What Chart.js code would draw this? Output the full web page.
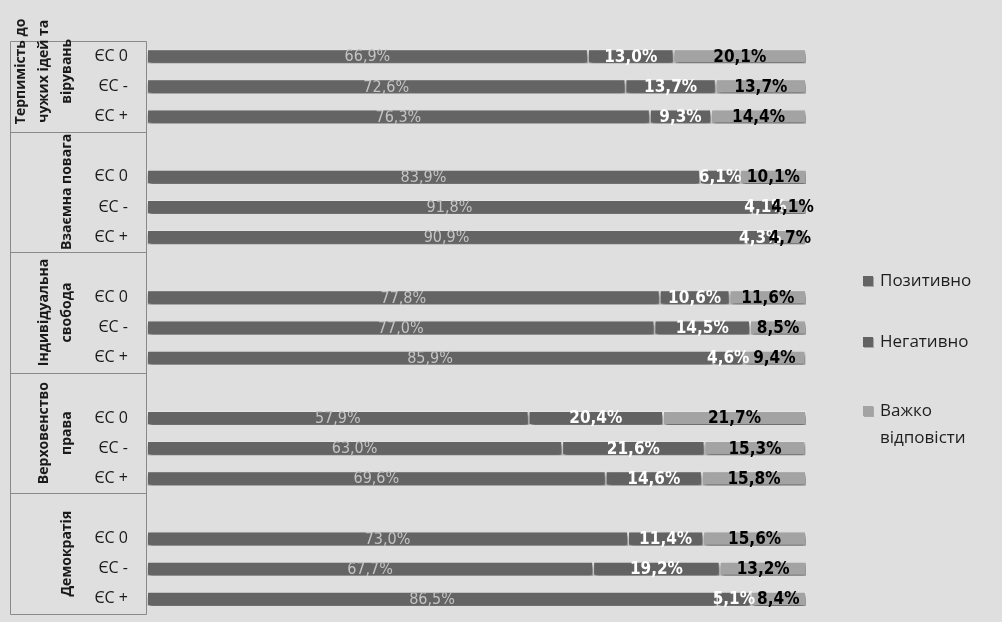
<!DOCTYPE html>
<html><head><meta charset="utf-8">
<script src="https://cdn.jsdelivr.net/npm/chart.js@4/dist/chart.umd.min.js"></script>
<style>html,body{margin:0;padding:0;background:#dfdfdf;overflow:hidden}#wrap{width:1002px;height:622px;position:relative}</style>
</head><body><div id="wrap"><canvas id="c" width="1002" height="622"></canvas></div>
<script>
const groupNames = [['Терпимість до','чужих ідей та','вірувань'],['Взаємна повага'],['Індивідуальна','свобода'],['Верховенство','права'],['Демократія']];
const subLabels = ['ЄС 0','ЄС -','ЄС +'];
const positive = [66.9,72.6,76.3, 83.9,91.8,90.9, 77.8,77.0,85.9, 57.9,63.0,69.6, 73.0,67.7,86.5];
const negative = [13.0,13.7,9.3, 6.1,4.1,4.3, 10.6,14.5,4.6, 20.4,21.6,14.6, 11.4,19.2,5.1];
const hard = [20.1,13.7,14.4, 10.1,4.1,4.7, 11.6,8.5,9.4, 21.7,15.3,15.8, 15.6,13.2,8.4];
const seriesNames = ['Позитивно','Негативно','Важко відповісти'];
const legendLines = [['Позитивно'],['Негативно'],['Важко','відповісти']];
const colors = ['#646464','#626262','#a3a3a3'];
const labelColors = ['#c4c4c4','#ffffff','#000000'];
const labelFonts = ['16px','bold 17px','bold 17px'];

function slotted(arr){const out=[];for(let g=0;g<groupNames.length;g++){out.push(null);for(let i=0;i<subLabels.length;i++)out.push(arr[g*subLabels.length+i]);}return out;}
const yLabels=[];for(let g=0;g<groupNames.length;g++){yLabels.push('');subLabels.forEach(s=>yLabels.push(s));}
const seriesData=[positive,negative,hard];

const LABEL_FONT="'DejaVu Sans Condensed','Liberation Sans Narrow','DejaVu Sans',sans-serif";
const UI_FONT="'Open Sans','Noto Sans',sans-serif";

const decor={id:'decor',
 beforeDatasetsDraw(chart){const ctx=chart.ctx;const y=chart.scales.y;const ca=chart.chartArea;
  ctx.save();ctx.strokeStyle='#8a8a8a';ctx.lineWidth=1;
  const top=Math.round(y.getPixelForValue(0.5))+0.5;const bot=Math.round(y.getPixelForValue(yLabels.length-0.5))+0.5;
  const lx=10.5, rx=Math.round(ca.left)-0.5;
  ctx.beginPath();ctx.moveTo(lx,top);ctx.lineTo(lx,bot);ctx.moveTo(rx,top);ctx.lineTo(rx,bot);
  ctx.moveTo(lx,top);ctx.lineTo(rx,top);
  for(let g=1;g<=groupNames.length;g++){const py=Math.round(y.getPixelForValue(g*4-0.5))+0.5;ctx.moveTo(lx,py);ctx.lineTo(rx,py);}
  ctx.stroke();
  ctx.fillStyle='#1a1a1a';ctx.font="bold 14px "+UI_FONT;ctx.textAlign='center';ctx.textBaseline='middle';
  groupNames.forEach((lines,g)=>{const cy=y.getPixelForValue(g*4+1.5);ctx.save();ctx.translate(67,cy);ctx.rotate(-Math.PI/2);
   const n=lines.length;lines.forEach((t,i)=>ctx.fillText(t,0,(i-(n-1))*23));ctx.restore();});
  ctx.restore();
  ctx.save();ctx.shadowColor='rgba(0,0,0,0.6)';ctx.shadowBlur=4;ctx.shadowOffsetY=3;ctx.shadowOffsetX=1;
 },
 afterDatasetsDraw(chart){const ctx=chart.ctx;ctx.restore();ctx.save();
  ctx.textAlign='center';ctx.textBaseline='middle';
  chart.data.datasets.forEach((ds,di)=>{const meta=chart.getDatasetMeta(di);
   ctx.font=labelFonts[di]+" "+LABEL_FONT;ctx.fillStyle=labelColors[di];
   meta.data.forEach((el,i)=>{const v=ds.data[i];if(v==null)return;const p=el.getProps(['x','y','base'],true);
    ctx.fillText(v.toFixed(1).replace('.',',')+'%',(p.x+p.base)/2,p.y+1);});});
  ctx.restore();
 },
 afterDraw(chart){const ctx=chart.ctx;const ca=chart.chartArea;ctx.save();
  const lx=ca.right+57;const tops=[281,342,411];
  ctx.font="17px "+UI_FONT;ctx.textBaseline='middle';ctx.textAlign='left';
  legendLines.forEach((lines,i)=>{const cy=tops[i];
   ctx.fillStyle='rgba(0,0,0,0.25)';ctx.fillRect(lx+1,cy-4,10,10);
   ctx.fillStyle=colors[i];ctx.fillRect(lx,cy-5,10,10);
   ctx.fillStyle='#1e1e1e';lines.forEach((t,k)=>ctx.fillText(t,lx+17,cy+k*27));});
  ctx.restore();}
};

new Chart(document.getElementById('c'),{
 type:'bar',
 data:{labels:yLabels,datasets:seriesData.map((d,i)=>({label:seriesNames[i],data:slotted(d),backgroundColor:colors[i],borderColor:'#ececec',borderWidth:1,borderSkipped:false,categoryPercentage:1,barPercentage:0.47}))},
 options:{indexAxis:'y',responsive:false,animation:false,
  layout:{padding:{left:10,right:196,top:11,bottom:8}},
  plugins:{legend:{display:false},tooltip:{enabled:false}},
  scales:{
   x:{stacked:true,min:0,max:100,display:false},
   y:{stacked:true,grid:{display:false},border:{display:false},
      ticks:{color:'#1a1a1a',font:{family:UI_FONT,size:16},padding:11,autoSkip:false},
      afterFit(s){s.width=137;s.paddingTop=0;s.paddingBottom=0;}}
  }},
 plugins:[decor]
});
</script></body></html>
